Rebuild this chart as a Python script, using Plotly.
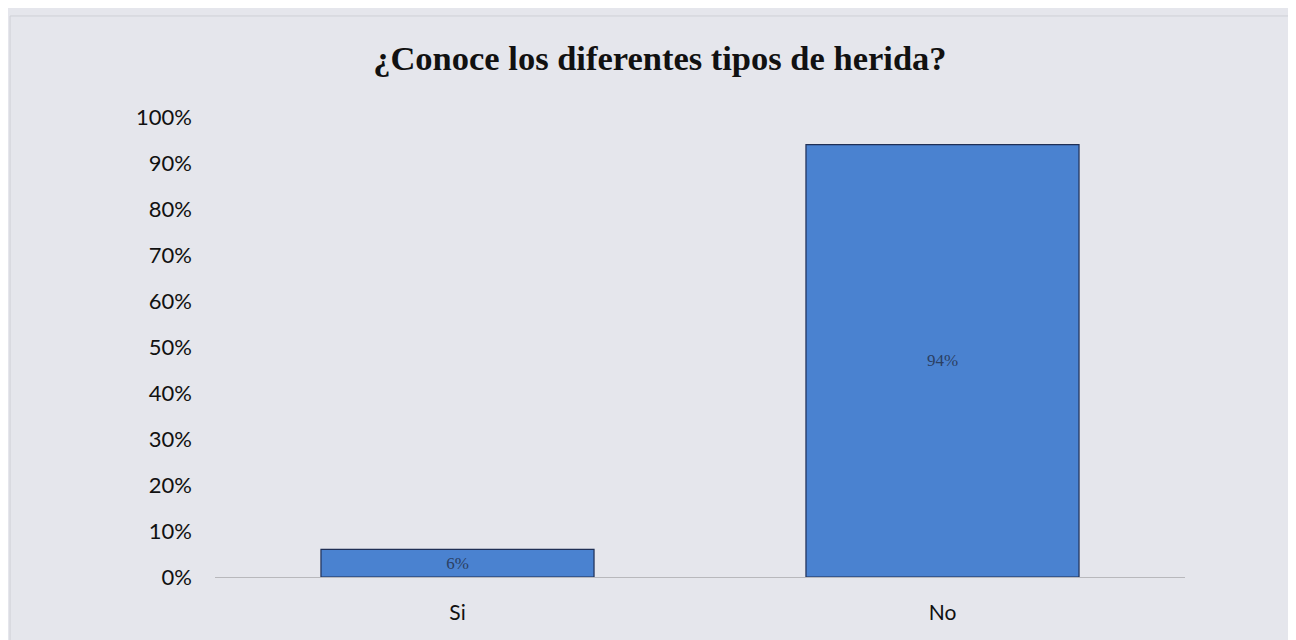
import plotly.graph_objects as go

categories = ["Si", "No"]
values = [0.06, 0.94]
labels = ["6%", "94%"]
tick_vals = [0, 0.1, 0.2, 0.3, 0.4, 0.5, 0.6, 0.7, 0.8, 0.9, 1.0]
tick_text = ["0%", "10%", "20%", "30%", "40%", "50%", "60%", "70%", "80%", "90%", "100%"]
title = "¿Conoce los diferentes tipos de herida?"

fig = go.Figure(go.Bar(
    x=categories, y=values, text=labels,
    textposition="inside", insidetextanchor="middle",
    textfont=dict(family="Liberation Serif", size=17, color="#2b3f63"),
    marker=dict(color="#4a82d0", line=dict(color="#1f2f55", width=1.2)),
))

fig.update_layout(
    width=1296, height=640,
    paper_bgcolor="#e5e6ec", plot_bgcolor="#e5e6ec",
    margin=dict(l=207, r=119, t=109, b=71),
    bargap=0.437,
    showlegend=False,
    title=dict(text="<b>" + title + "</b>", x=0.503, xanchor="center", y=0.922, yanchor="middle",
               font=dict(family="Liberation Serif", size=34.5, color="#111111")),
    font=dict(family="Lato", size=22, color="#111111"),
)
fig.update_xaxes(showline=True, linecolor="#b8b8bc", linewidth=1, showgrid=False,
                 ticks="", tickfont=dict(family="Lato", size=21, color="#111111"),
                 ticklabelstandoff=17)
fig.update_yaxes(range=[0, 1.0], tickvals=tick_vals, ticktext=tick_text, showgrid=False,
                 zeroline=False, showline=False, ticks="",
                 tickfont=dict(family="Lato", size=22, color="#111111"),
                 ticklabelstandoff=22)
fig.add_shape(type="rect", xref="paper", yref="paper", x0=-0.2113, x1=1.15, y0=-0.2, y1=1.2196,
              line=dict(color="#cfd0d6", width=1))
fig.write_html("out.html")
